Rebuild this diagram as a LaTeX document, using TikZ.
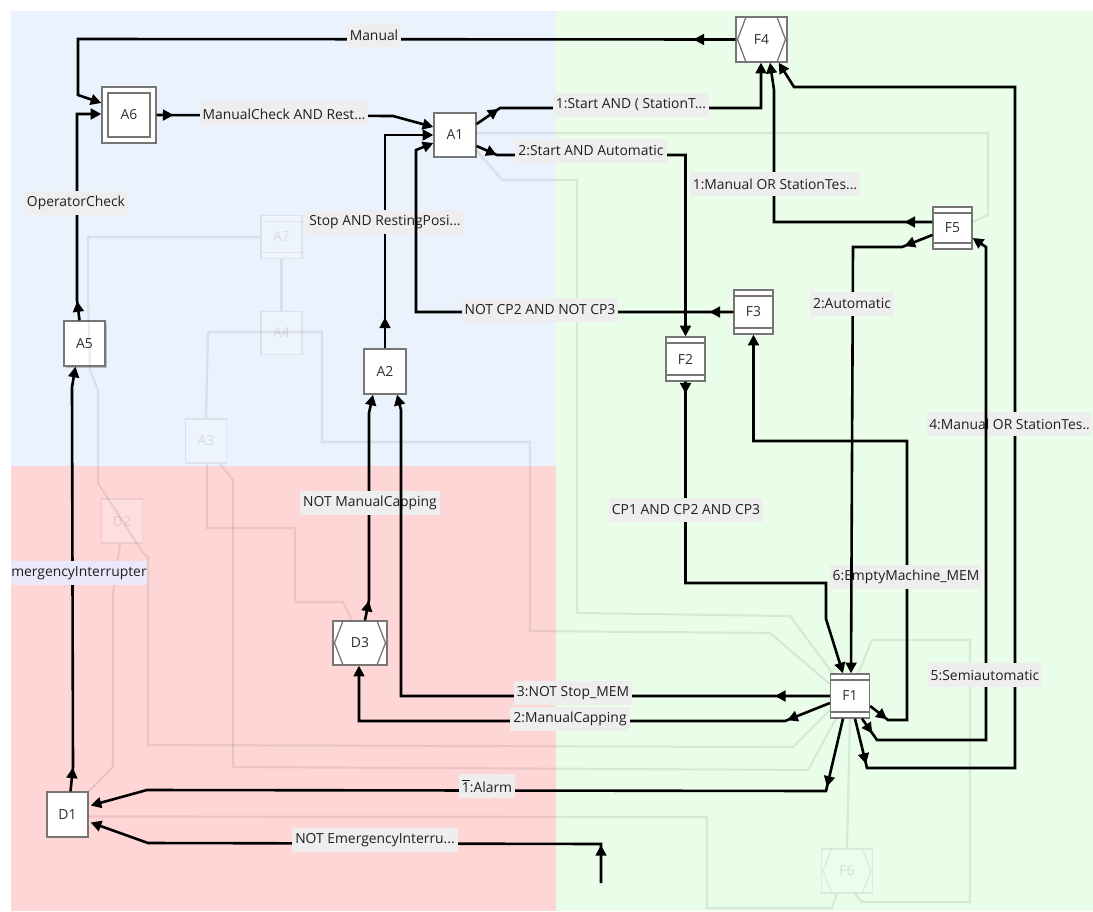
\documentclass[tikz,border=0pt]{standalone}
\usepackage{fontspec}
\setmainfont{Open Sans}
\usetikzlibrary{arrows.meta,calc,decorations.markings,shadows}
\newdimen\pxu \pxu=0.75pt
\definecolor{bgblue}{RGB}{234,242,254}
\definecolor{bgred}{RGB}{255,214,214}
\definecolor{bggreen}{RGB}{233,253,233}
\definecolor{lblbg}{RGB}{238,238,238}
\definecolor{lblbgb}{RGB}{233,233,251}
\definecolor{nodeborder}{RGB}{118,118,118}
\definecolor{txt}{RGB}{45,45,45}
\tikzset{
  box/.style={draw=nodeborder, fill=white, line width=1.3\pxu, minimum width=42\pxu,
    minimum height=44\pxu, inner sep=0pt, font=\fontsize{10.4}{12}\selectfont, text=txt},
  fbox/.style={box, minimum width=39\pxu, path picture={
    \draw[nodeborder, line width=1.3\pxu]
      ([yshift=-6\pxu]path picture bounding box.north west) -- ([yshift=-6\pxu]path picture bounding box.north east)
      ([yshift=6\pxu]path picture bounding box.south west) -- ([yshift=6\pxu]path picture bounding box.south east);}},
  hbox/.style={box, minimum width=51\pxu, path picture={
    \draw[nodeborder, line width=1.3\pxu]
      ([xshift=10\pxu]path picture bounding box.north west) -- ([xshift=1.5\pxu]path picture bounding box.west)
        -- ([xshift=10\pxu]path picture bounding box.south west)
      ([xshift=-10\pxu]path picture bounding box.north east) -- ([xshift=-1.5\pxu]path picture bounding box.east)
        -- ([xshift=-10\pxu]path picture bounding box.south east);}},
  dbox/.style={box, minimum width=54\pxu, minimum height=56\pxu, path picture={
    \draw[nodeborder, line width=1.3\pxu]
      ([shift={(6\pxu,-6\pxu)}]path picture bounding box.north west) rectangle
      ([shift={(-6\pxu,6\pxu)}]path picture bounding box.south east);}},
  ghostn/.style={draw opacity=0.13, fill opacity=0.2, text opacity=0.13},
  ghostl/.style={draw=black, draw opacity=0.08, line width=2.2\pxu},
  conn/.style={draw=black, line width=2.6\pxu, -{Triangle[length=8pt,width=8pt]}},
  srcarrow/.style={postaction={decorate}, decoration={markings,
    mark=at position #1 with {\arrow{Triangle[length=8pt,width=8pt]}}}},
  lbl/.style={fill=lblbg, inner xsep=3\pxu, inner ysep=0pt, minimum height=24\pxu,
    font=\fontsize{10.4}{12}\selectfont, text=black!88},
  lblb/.style={lbl, fill=lblbgb}
}
\begin{document}
\begin{tikzpicture}[x=0.75pt,y=-0.75pt]
\useasboundingbox (0,0) rectangle (1093,911);
\fill[white] (0,0) rectangle (1093,911);
\fill[bgblue] (11,11) rectangle (556,466);
\fill[bgred] (11,466) rectangle (556,911);
\fill[bggreen] (556,11) rectangle (1093,911);

% main nodes
\node[dbox] (A6) at (129,115) {A6};
\node[box] (A1) at (455,135) {A1};
\node[hbox, minimum height=45\pxu] (F4) at (761.5,39.5) {F4};
\node[fbox, minimum height=42\pxu] (F5) at (952.5,228) {F5};
\node[box, minimum width=41\pxu, minimum height=45\pxu,
      drop shadow={shadow xshift=1.3pt, shadow yshift=-1.3pt, opacity=0.45}] (A5) at (84.5,343.5) {A5};
\node[box, minimum height=45\pxu] (A2) at (385,371.5) {A2};
\node[fbox] (F2) at (685.5,359) {F2};
\node[fbox] (F3) at (753.5,312) {F3};
\node[hbox, minimum width=54\pxu] (D3) at (360,643) {D3};
\node[box, minimum width=41\pxu, minimum height=45\pxu] (D1) at (67.5,814.5) {D1};
\node[fbox] (F1) at (850,696) {F1};

% ghost nodes
\node[fbox, ghostn, minimum width=41\pxu, minimum height=43\pxu] (A7) at (281.5,237) {A7};
\node[box, ghostn, minimum width=41\pxu, minimum height=43\pxu] (A4) at (281.5,333) {A4};
\node[box, ghostn, minimum width=41\pxu] (A3) at (206,441) {A3};
\node[box, ghostn, minimum width=41\pxu] (D2) at (122,521) {D2};
\node[hbox, ghostn, minimum height=44\pxu] (F6) at (847,871) {F6};

% ghost connectors
\draw[ghostl] ($(A1.east)+(0,-2)$) -- (988,133) -- (988,215) -- ($(F5.east)+(0,-6)$);
\draw[ghostl] ($(A1.south east)+(0,-7)$) -- (502,180) -- (577,180) -- (577,613) -- (790,616) -- ($(F1.north west)+(3,0)$);
\draw[ghostl] (A3.north) -- (208,332) -- (322,332) -- (322,442) -- (530,442) -- (530,631) -- (770,633) -- ($(F1.west)+(0,-12)$);
\draw[ghostl] (A7.south) -- (A4.north);
\draw[ghostl] (A7.west) -- (88,237) -- (88,300) -- (90,370) -- (98,390) -- (98,483) -- (143,553) -- (148,557) -- (148,745) -- (793,747) -- ($(F1.west)+(0,14)$);
\draw[ghostl] ($(A3.south)+(14,0)$) -- (233,480) -- (233,767) -- (808,770) -- ($(F1.south west)+(6,0)$);
\draw[ghostl] ($(A3.south)+(1,0)$) -- (207,528) -- (295,528) -- (295,602) -- (343,602) -- ($(D3.north)+(-8,0)$);
\draw[ghostl] ($(D2.south)+(-2,0)$) -- (113,593) -- (113,767) -- (D1.north east);
\draw[ghostl] ($(D1.east)+(0,2)$) -- (707,817) -- (707,908) -- (832,908) -- ($(F6.south)+(-10,0)$);
\draw[ghostl] (F1.south) -- (F6.north);
\draw[ghostl] ($(F1.north east)+(-12,0)$) -- (872,640) -- (970,640) -- (970,902) -- (862,902) -- ($(F6.south)+(8,0)$);

% connectors and labels
\draw[conn, srcarrow=31.5pt] (F4.west) -- (78,39) -- (78,95) -- ($(A6.west)+(0,-12)$);
\node[lbl] (L1) at (374,35) {Manual};

\draw[conn, srcarrow=14.5pt] ($(A5.north)+(-5,0)$) -- (77,300) -- (77,114) -- ($(A6.west)+(0,-1)$);
\node[lbl] (L2) at (76,203) {OperatorCheck};

\draw[conn, srcarrow=12.75pt] (A6.east) -- (393,116) -- ($(A1.west)+(0,-8)$);
\node[lbl] (L3) at (284,114) {ManualCheck AND Rest...};

\draw[conn, srcarrow=23.25pt] (A2.north) -- (385,135) -- (A1.west);
\node[lbl] (L4) at (385,222) {Stop AND RestingPosi...};

\draw[conn, srcarrow=18pt] (F3.west) -- (416,312) -- (416,150) -- ($(A1.west)+(0,8)$);
\node[lbl] (L5) at (540,310) {NOT CP2 AND NOT CP3};

\draw[conn, srcarrow=20pt] ($(A1.east)+(0,-11)$) -- (500,108) -- (761,108) -- ($(F4.south)+(-0.5,0)$);
\node[lbl] (L6) at (631,105) {1:Start AND ( StationT...};

\draw[conn, srcarrow=16.5pt] ($(A1.east)+(0,11)$) -- (497,155) -- (685.5,155) -- (F2.north);
\node[lbl] (L7) at (591,151) {2:Start AND Automatic};

\draw[conn, srcarrow=21pt] ($(F5.west)+(0,-6)$) -- (774,222) -- (774,90) -- ($(F4.south)+(8.5,0)$);
\node[lbl] (L8) at (775,184) {1:Manual OR StationTes...};

\draw[conn, srcarrow=9pt] (F2.south) -- (685.5,583) -- (826,583) -- (826,619) -- ($(F1.north)+(-7,0)$);
\node[lbl] (L10) at (686,510) {CP1 AND CP2 AND CP3};

\draw[conn, srcarrow=16pt] ($(F1.east)+(0,10)$) -- (888,720) -- (907,720) -- (907,441) -- (753.5,441) -- (F3.south);
\node[lbl] (L11) at (906,577) {6:EmptyMachine\_MEM};

\draw[conn, srcarrow=22.5pt] ($(F5.west)+(0,7)$) -- (902,247) -- (853,247) -- ($(F1.north)+(1,0)$);
\node[lbl] (L9) at (852,304) {2:Automatic};

\draw[conn, srcarrow=35pt] ($(F1.south)+(5,0)$) -- (867,768) -- (1015,768) -- (1015,87) -- (794,87) -- ($(F4.south east)+(-9,0)$);
\node[lbl, anchor=west, inner xsep=2\pxu] (L13) at (927,424) {4:Manual OR StationTes..};

\draw[conn, srcarrow=13.5pt] ($(F1.south)+(12,0)$) -- (877,740) -- (986,740) -- (986,247) -- ($(F5.east)+(0,10)$);
\node[lbl] (L12) at (985,675) {5:Semiautomatic};

\draw[conn, srcarrow=15pt] ($(D3.north)+(5,0)$) -- (369,600) -- (369,413) -- ($(A2.south)+(-12,0)$);
\node[lbl] (L19) at (370,503) {NOT ManualCapping};

\draw[conn, srcarrow=41.25pt] (F1.west) -- (401,696) -- (401,410) -- ($(A2.south)+(12,0)$);
\node[lbl] (L14) at (573,693) {3:NOT Stop\_MEM};

\draw[conn, srcarrow=34.5pt] ($(F1.west)+(0,7)$) -- (785,721) -- (359,721) -- ($(D3.south)+(-1,0)$);
\node[lbl] (L15) at (570,719) {2:ManualCapping};

\draw[conn, srcarrow=52.5pt] ($(F1.south)+(-7,0)$) -- (826,791) -- (147,790) -- ($(D1.east)+(2,-9)$);
\node[lbl] (L16) at (487,786) {$\overline{\mbox{1}}$:Alarm};

\coordinate (ext) at (601,883);
\draw[conn, srcarrow=28.5pt] (ext) -- (601,844) -- (148,843) -- ($(D1.east)+(2,8)$);
\node[lbl] (L17) at (375,840) {NOT EmergencyInterru...};

\draw[conn, srcarrow=18pt] ($(D1.north)+(3,0)$) -- (73,767) -- (72,387) -- ($(A5.south)+(-9,0)$);
\node[lblb, anchor=west, inner xsep=0pt] (L18) at (11,573) {mergencyInterrupter};
\end{tikzpicture}
\end{document}
